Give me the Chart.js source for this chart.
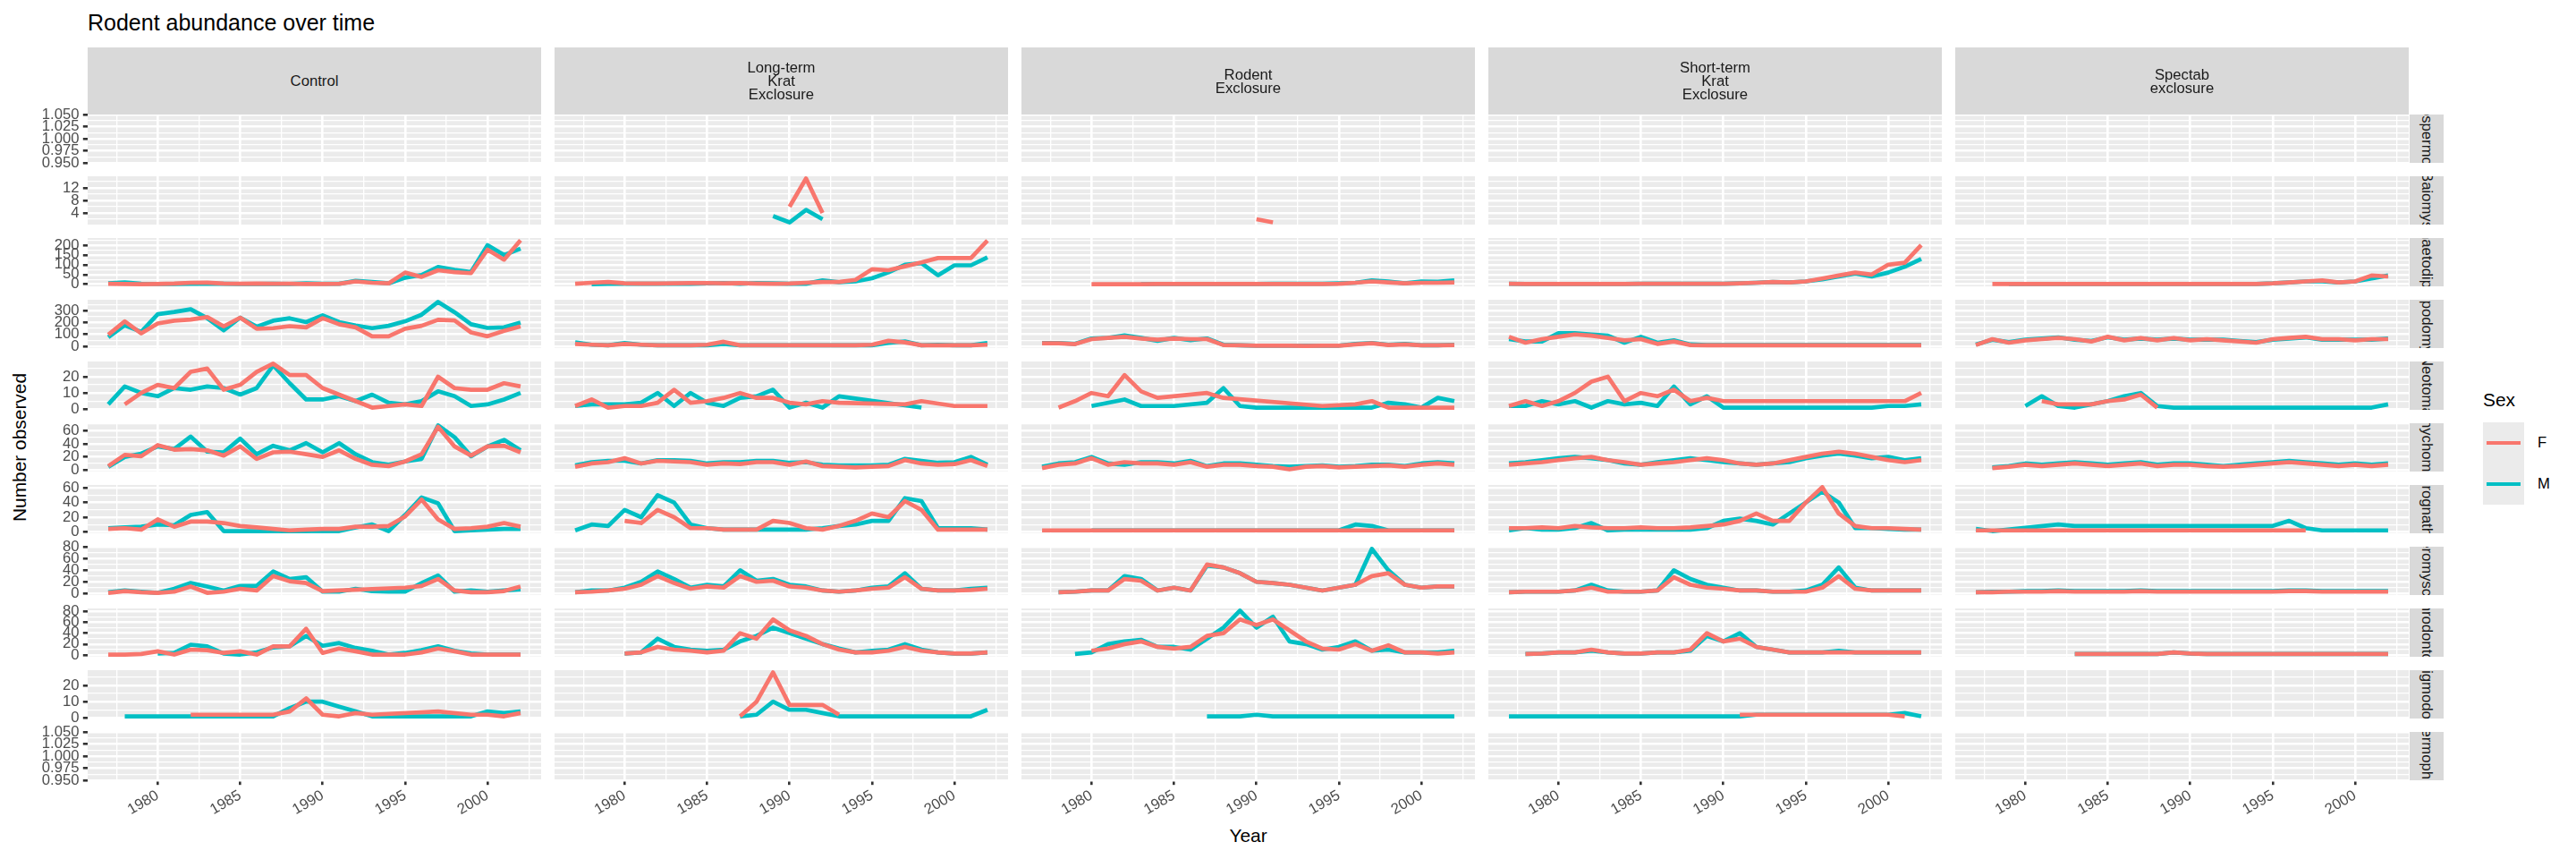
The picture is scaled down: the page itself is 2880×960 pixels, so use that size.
<!DOCTYPE html>
<html>
<head>
<meta charset="utf-8">
<script src="https://cdn.jsdelivr.net/npm/chart.js@4.4.1/dist/chart.umd.min.js"></script>
<style>
body{margin:0;width:2880px;height:960px;background:#fff;position:relative;overflow:hidden;font-family:"Liberation Sans",Arial,sans-serif}
canvas{position:absolute}
.txt{position:absolute;white-space:nowrap;line-height:1}
.strip{position:absolute;background:#D9D9D9;color:#1A1A1A;font-size:16.7px;display:flex;align-items:center;justify-content:center;text-align:center;line-height:15px;overflow:hidden;white-space:pre}
.rstrip span{writing-mode:vertical-rl;white-space:nowrap}
.key{position:absolute;width:46px;height:46px;background:#EBEBEB}
.key i{position:absolute;left:4px;right:4px;top:20.6px;height:4.7px}
</style>
</head>
<body>
<div class="txt" style="left:98px;top:12.8px;font-size:25px;color:#000">Rodent abundance over time</div>
<div class="txt" style="left:1395.5px;top:923.8px;font-size:20.9px;transform:translateX(-50%)">Year</div>
<div class="txt" style="left:21.5px;top:500px;font-size:20.9px;transform:translate(-50%,-50%) rotate(-90deg)">Number observed</div>
<div class="txt" style="left:2776px;top:437.3px;font-size:20.9px">Sex</div>
<div class="key" style="left:2776px;top:472px"><i style="background:#F8766D"></i></div>
<div class="key" style="left:2776px;top:518px"><i style="background:#00BFC4"></i></div>
<div class="txt" style="left:2837px;top:486.9px;font-size:16.7px">F</div>
<div class="txt" style="left:2837px;top:532.9px;font-size:16.7px">M</div>
<div id="wrap"></div>
<script>
const _ = null;
const years = [1977,1978,1979,1980,1981,1982,1983,1984,1985,1986,1987,1988,1989,
               1990,1991,1992,1993,1994,1995,1996,1997,1998,1999,2000,2001,2002];
const plotTypes = ["Control", "Long-term\nKrat\nExclosure", "Rodent\nExclosure",
                   "Short-term\nKrat\nExclosure", "Spectab\nexclosure"];
const genera = ["Ammospermophilus","Baiomys","Chaetodipus","Dipodomys","Neotoma","Onychomys",
                "Perognathus","Peromyscus","Reithrodontomys","Sigmodon","Spermophilus"];
const yTickSteps = [0.025, 4, 50, 100, 10, 20, 20, 20, 20, 10, 0.025];
const xTickLabels = [1980, 1985, 1990, 1995, 2000];

// counts by plot type: Control, Long-term, Rodent, Short-term, Spectab
const ammospermophilusF = [[],[],[],[],[]];
const ammospermophilusM = [[],[],[],[],[]];
const baiomysF = [[],
  [_,_,_,_,_,_,_,_,_,_,_,_,_,6,15,4,_,_,_,_,_,_,_,_,_,_],
  [_,_,_,_,_,_,_,_,_,_,_,_,_,2,1,_,_,_,_,_,_,_,_,_,_,_],
  [],[]];
const baiomysM = [[],
  [_,_,_,_,_,_,_,_,_,_,_,_,3,1,5,2,_,_,_,_,_,_,_,_,_,_],
  [],[],[]];
const chaetodipusF = [
  [3,2,1,2,4,8,9,4,3,4,3,3,2,2,3,15,8,5,60,38,72,62,57,177,126,225],
  [3,8,12,5,4,4,5,6,7,5,6,4,3,4,8,12,12,23,77,72,92,112,134,134,134,223],
  [_,_,_,1,1,1,1,2,2,2,2,2,2,2,2,2,2,2,3,8,15,10,5,8,8,10],
  [3,2,2,2,2,2,2,2,3,3,3,3,3,3,5,8,12,10,15,30,45,60,50,100,110,200],
  [_,2,2,2,2,2,2,2,2,2,2,2,2,2,2,2,2,2,5,10,15,20,10,15,45,40]];
const chaetodipusM = [
  [5,10,3,2,2,3,3,3,2,2,3,2,5,3,3,18,12,5,34,48,89,74,63,200,149,182],
  [_,1,3,3,3,3,3,3,5,7,3,7,5,3,3,20,11,15,31,61,100,108,46,97,97,138],
  [_,_,_,_,_,_,1,2,2,2,2,2,2,2,3,3,3,3,5,8,20,15,5,15,13,20],
  [3,2,2,2,2,2,2,2,3,3,3,3,3,3,5,8,12,10,15,25,40,55,40,60,90,130],
  [_,_,2,2,2,2,2,2,2,2,2,2,2,2,2,2,2,2,5,10,15,15,10,15,30,45]];
const dipodomysF = [
  [97,211,109,193,216,226,247,168,242,148,153,170,160,237,186,160,84,84,148,173,224,219,117,84,130,168],
  [20,13,8,20,13,8,8,8,13,38,8,8,8,8,8,8,8,8,13,46,33,8,8,8,8,13],
  [25,25,18,60,70,80,65,55,65,60,60,10,8,5,5,5,3,5,5,15,25,10,15,8,8,10],
  [80,30,60,80,100,90,70,50,60,20,40,10,8,8,8,8,8,8,8,8,8,8,8,8,8,8],
  [10,60,30,50,60,70,60,40,80,50,70,50,70,50,60,50,40,30,60,70,80,60,60,50,60,60]];
const dipodomysM = [
  [76,178,122,272,290,313,237,135,242,165,216,237,204,262,204,176,153,173,211,267,375,288,186,155,160,201],
  [33,13,8,28,13,8,8,8,8,20,8,8,8,8,8,8,8,8,8,28,41,8,13,8,8,28],
  [28,28,20,66,71,92,71,46,71,51,66,13,8,5,5,5,5,5,5,20,28,13,20,8,8,13],
  [60,40,40,110,110,100,90,30,80,30,50,15,10,10,10,10,10,10,10,10,10,10,10,10,10,10],
  [15,55,35,55,65,75,55,45,75,55,65,55,65,55,55,55,45,35,55,65,75,55,55,55,55,65]];
const neotomaF = [
  [_,3,10,15,13,23,25,12,15,23,28,21,21,13,9,5,1,2,3,2,20,13,12,12,16,14],
  [2,6,1,2,2,4,12,4,5,7,10,7,7,4,3,5,4,_,_,_,3,5,_,2,_,2],
  [_,1,5,10,8,21,11,7,_,_,10,7,_,_,_,_,_,2,_,3,5,1,1,1,1,1],
  [2,5,2,5,10,17,20,5,10,8,12,5,7,5,_,_,_,_,_,_,_,_,_,_,5,10],
  [_,_,_,_,5,3,3,3,5,6,9,1,_,_,_,_,_,_,_,_,_,_,_,_,_,_]];
const neotomaM = [
  [3,14,10,8,13,12,14,13,9,13,27,16,6,6,8,5,9,4,3,5,11,8,2,3,6,10],
  [2,3,_,3,4,10,2,10,4,2,7,8,12,1,4,1,8,_,_,_,_,1,_,_,_,_],
  [_,_,_,2,_,6,2,_,2,_,4,13,2,1,1,1,1,1,1,1,1,4,3,1,7,5],
  [2,2,5,3,5,1,5,3,4,2,14,3,8,1,1,1,1,1,1,1,1,1,1,2,2,3],
  [_,_,_,2,8,2,1,3,5,8,10,2,1,1,1,1,1,1,1,1,1,1,1,1,1,3]];
const onychomysF = [
  [6,23,21,38,31,32,30,22,36,17,27,28,24,20,30,17,8,6,13,24,66,36,22,36,37,27],
  [5,10,12,18,10,14,13,12,8,10,9,12,12,8,13,6,5,4,5,6,15,10,8,9,15,6],
  [3,8,10,18,8,12,10,10,8,12,5,8,8,6,5,1,5,6,4,5,6,7,5,8,10,8],
  [8,10,12,15,18,20,15,12,8,10,12,15,18,15,10,8,10,15,20,25,28,25,20,15,12,15],
  [_,3,5,8,6,8,10,8,6,8,10,6,8,8,6,5,6,8,10,12,10,8,6,8,6,8]];
const onychomysM = [
  [5,20,25,36,32,51,28,27,48,24,37,30,41,27,41,24,12,8,13,17,68,50,21,36,46,30],
  [7,12,14,14,10,15,15,14,10,12,12,14,14,11,12,8,7,7,7,8,17,14,11,12,20,8],
  [5,10,12,20,10,8,12,12,10,14,6,10,10,8,6,5,6,7,5,6,8,8,6,10,12,10],
  [10,12,15,18,20,18,15,10,8,12,15,18,15,12,10,8,10,12,18,22,25,22,18,20,15,18],
  [_,4,6,10,8,10,12,10,8,10,12,8,10,10,8,6,8,10,12,14,12,10,8,10,8,10]];
const perognathusF = [
  [4,5,3,17,7,14,14,12,8,6,4,2,3,4,4,7,7,8,21,44,17,4,5,7,12,7],
  [_,_,_,15,12,30,20,5,5,3,3,3,15,12,5,3,8,15,25,20,42,30,3,3,3,3],
  [2,2,2,2,2,2,2,2,2,2,2,2,2,2,2,2,2,2,2,2,2,2,2,2,2,2],
  [5,5,6,5,8,6,5,5,6,5,5,6,8,10,15,25,15,15,40,61,25,8,5,5,4,3],
  [2,2,2,2,2,2,2,2,2,2,2,2,2,2,2,2,2,2,2,2,2,_,_,_,_,_]];
const perognathusM = [
  [5,6,7,10,9,23,27,1,1,1,1,1,1,1,1,6,10,1,23,47,39,1,2,3,4,4],
  [2,10,8,30,20,50,40,10,5,3,3,3,3,3,3,5,8,10,15,15,46,42,5,5,5,3],
  [_,_,_,2,2,2,2,2,2,2,2,2,2,2,2,2,2,2,2,10,8,2,2,2,2,2],
  [2,5,3,3,5,12,2,3,3,3,3,3,5,15,18,15,10,25,40,55,40,5,5,4,3,3],
  [4,1,_,_,_,10,8,8,8,8,8,8,8,8,8,8,8,8,8,15,5,2,2,2,2,2]];
const peromyscusF = [
  [1,4,2,1,3,12,1,3,8,5,30,21,18,4,_,_,_,_,10,13,25,5,2,2,4,12],
  [2,3,5,8,15,30,18,8,12,10,30,20,22,12,10,5,3,5,8,10,28,8,5,5,6,8],
  [_,2,3,5,5,25,22,5,10,5,50,45,35,20,18,15,10,5,10,15,30,35,15,10,12,12],
  [2,3,3,3,5,10,3,3,3,5,28,15,10,8,5,5,3,3,3,10,30,8,5,5,5,5],
  [2,2,3,3,3,4,3,3,3,3,4,3,3,3,3,3,3,3,3,4,4,3,3,3,3,3]];
const peromyscusM = [
  [2,5,3,1,8,18,12,5,13,13,38,25,28,3,3,8,4,3,3,18,31,3,5,3,5,7],
  [2,5,5,10,20,38,25,10,15,12,40,22,25,15,12,5,3,5,10,12,35,8,5,5,8,10],
  [_,2,3,5,5,30,25,5,10,5,48,45,35,20,18,15,10,5,10,15,77,40,15,10,12,12],
  [2,3,3,3,5,15,5,3,3,5,40,25,15,10,5,5,3,3,5,15,45,10,5,5,5,5],
  [2,3,3,4,4,5,4,4,4,4,5,4,4,4,4,4,4,4,4,5,5,4,4,4,4,4]];
const reithrodontomysF = [
  [1,1,2,7,1,10,9,4,7,1,16,16,48,4,12,7,1,1,1,5,12,7,1,1,1,1],
  [_,_,_,3,5,15,10,8,5,8,40,30,65,45,35,20,10,5,5,8,15,8,5,3,3,5],
  [_,_,_,8,12,20,25,15,12,15,35,40,65,55,65,45,25,12,10,20,8,18,5,5,3,5],
  [_,2,3,5,5,10,5,3,3,5,5,10,40,25,30,15,10,5,5,5,5,5,5,5,5,5],
  [_,_,_,_,_,_,2,2,2,2,2,2,5,3,2,2,2,2,2,2,2,2,2,2,2,2]];
const reithrodontomysM = [
  [_,_,_,3,4,19,16,3,1,5,14,16,35,17,22,13,8,1,4,9,16,8,3,1,1,1],
  [_,_,_,3,5,30,15,10,8,10,25,35,50,40,30,20,12,5,8,10,20,10,5,3,3,5],
  [_,_,2,5,20,25,28,15,15,10,30,50,81,50,70,25,20,10,15,25,8,10,5,5,5,8],
  [_,2,3,5,5,8,5,3,3,5,5,8,35,25,40,15,10,5,5,5,8,5,5,5,5,5],
  [_,_,_,_,_,_,2,2,2,2,2,2,5,3,2,2,2,2,2,2,2,2,2,2,2,2]];
const sigmodonF = [
  [_,_,_,_,_,2,2,2,2,2,2,4,12,2,1,3,2,_,_,_,4,_,2,2,1,3],
  [_,_,_,_,_,_,_,_,_,_,1,10,28,8,8,8,2,_,_,_,_,_,_,_,_,_],
  [],
  [_,_,_,_,_,_,_,_,_,_,_,_,_,_,2,2,2,2,2,2,2,2,2,2,1,_],
  []];
const sigmodonM = [
  [_,1,1,1,1,1,1,1,1,1,1,6,10,10,7,4,1,1,1,1,1,1,1,4,3,4],
  [_,_,_,_,_,_,_,_,_,_,1,2,10,5,5,3,1,1,1,1,1,1,1,1,1,5],
  [_,_,_,_,_,_,_,_,_,_,1,1,1,2,1,1,1,1,1,1,1,1,1,1,1,1],
  [1,1,1,1,1,1,1,1,1,1,1,1,1,1,1,2,2,2,2,2,2,2,2,2,3,1],
  []];
const spermophilusF = [[],[],[],[],[]];
const spermophilusM = [[],[],[],[],[]];

const countsF = [ammospermophilusF, baiomysF, chaetodipusF, dipodomysF, neotomaF, onychomysF,
                 perognathusF, peromyscusF, reithrodontomysF, sigmodonF, spermophilusF];
const countsM = [ammospermophilusM, baiomysM, chaetodipusM, dipodomysM, neotomaM, onychomysM,
                 perognathusM, peromyscusM, reithrodontomysM, sigmodonM, spermophilusM];

// layout (px)
const PX = 98, PW = 506.6, CGAP = 15.5;
const PY = 128, PH = 54, RGAP = 15;
const PAD = 14, XAXH = 62;
const FONT = '"Liberation Sans", Arial, sans-serif';
const wrap = document.getElementById('wrap');

function pts(vals) {
  const out = [];
  vals.forEach((v, i) => { if (v !== null && v !== undefined) out.push({x: years[i], y: v}); });
  return out;
}

function rowRange(r) {
  const all = [];
  for (let c = 0; c < plotTypes.length; c++) {
    [countsF[r][c], countsM[r][c]].forEach(a => a.forEach(v => { if (v !== null) all.push(v); }));
  }
  if (!all.length) return [0.95, 1.05];
  const lo = Math.min(...all), hi = Math.max(...all), d = hi - lo;
  return [lo - 0.05 * d, hi + 0.05 * d];
}

const panelBg = {
  id: 'panelBg',
  beforeDraw(chart) {
    const a = chart.chartArea, ctx = chart.ctx;
    ctx.save();
    ctx.fillStyle = '#EBEBEB';
    ctx.fillRect(a.left, a.top, a.right - a.left, a.bottom - a.top);
    ctx.restore();
  }
};

const isMult = (v, s) => Math.abs(v / s - Math.round(v / s)) < 1e-6;

// strips on top
plotTypes.forEach((p, c) => {
  const d = document.createElement('div');
  d.className = 'strip';
  const l = Math.round(PX + c * (PW + CGAP)), rgt = Math.round(PX + c * (PW + CGAP) + PW);
  d.style.cssText = `left:${l}px;top:53px;width:${rgt - l}px;height:75px`;
  d.textContent = p;
  document.body.appendChild(d);
});
// strips on the right
const rightX = Math.round(PX + 4 * (PW + CGAP) + PW) + 1;
genera.forEach((g, r) => {
  const d = document.createElement('div');
  d.className = 'strip rstrip';
  d.style.cssText = `left:${rightX}px;top:${PY + r * (PH + RGAP)}px;width:38px;height:${PH}px`;
  d.innerHTML = `<span>${g}</span>`;
  document.body.appendChild(d);
});

const xTicks = [];
for (let v = 1977.5; v <= 2003; v += 2.5) xTicks.push(v);

for (let r = 0; r < genera.length; r++) {
  const [ylo, yhi] = rowRange(r);
  const step = yTickSteps[r], half = step / 2;
  const yTicks = [];
  for (let v = Math.ceil(ylo / half - 1e-9) * half; v <= yhi + 1e-9; v += half) yTicks.push(+v.toFixed(6));
  const isBottom = r === genera.length - 1;
  for (let c = 0; c < plotTypes.length; c++) {
    const isLeft = c === 0;
    const pl = Math.round(PX + c * (PW + CGAP)), pr = Math.round(PX + c * (PW + CGAP) + PW);
    const top = PY + r * (PH + RGAP);
    const cv = document.createElement('canvas');
    const cl = isLeft ? 0 : pl;
    const w = pr - cl, h = PAD + PH + (isBottom ? XAXH : PAD);
    cv.width = w; cv.height = h;
    cv.style.left = cl + 'px'; cv.style.top = (top - PAD) + 'px';
    cv.style.width = w + 'px'; cv.style.height = h + 'px';
    wrap.appendChild(cv);

    new Chart(cv, {
      type: 'line',
      data: {
        datasets: [
          {label: 'F', data: pts(countsF[r][c]), borderColor: '#F8766D'},
          {label: 'M', data: pts(countsM[r][c]), borderColor: '#00BFC4'}
        ]
      },
      options: {
        responsive: false,
        animation: false,
        devicePixelRatio: 1,
        layout: {padding: {top: PAD, bottom: isBottom ? 0 : PAD, left: 0, right: 0}},
        plugins: {legend: {display: false}, tooltip: {enabled: false}},
        elements: {
          point: {radius: 0},
          line: {borderWidth: 4.7, tension: 0, borderCapStyle: 'butt', borderJoinStyle: 'round', fill: false}
        },
        datasets: {line: {clip: 0}},
        scales: {
          x: {
            type: 'linear', min: 1975.75, max: 2003.25,
            afterBuildTicks: s => { s.ticks = xTicks.map(v => ({value: v})); },
            afterFit: s => { s.height = isBottom ? XAXH : 0; s.paddingLeft = 0; s.paddingRight = 0; },
            ticks: {
              display: isBottom, autoSkip: false, maxRotation: 30, minRotation: 30, padding: 2,
              callback: v => xTickLabels.includes(v) ? String(v) : '',
              font: {size: 16.7, family: FONT}, color: '#4D4D4D'
            },
            grid: {
              color: '#FFFFFF',
              lineWidth: ctx => isMult(ctx.tick.value, 5) ? 2.6 : 1.3,
              drawTicks: isBottom, tickLength: 5.2, tickWidth: 2.6,
              tickColor: ctx => isMult(ctx.tick.value, 5) ? '#333333' : 'rgba(0,0,0,0)'
            },
            border: {display: false}
          },
          y: {
            type: 'linear', min: ylo, max: yhi,
            afterBuildTicks: s => { s.ticks = yTicks.map(v => ({value: v})); },
            afterFit: s => { s.width = isLeft ? pl : 0; s.paddingTop = 0; s.paddingBottom = 0; },
            ticks: {
              display: isLeft, autoSkip: false, padding: 4.2,
              callback: v => isMult(v, step) ? (step < 1 ? v.toFixed(3) : String(Math.round(v))) : '',
              font: {size: 16.7, family: FONT}, color: '#4D4D4D'
            },
            grid: {
              color: '#FFFFFF',
              lineWidth: ctx => isMult(ctx.tick.value, step) ? 2.6 : 1.3,
              drawTicks: isLeft, tickLength: 5.2, tickWidth: 2.6,
              tickColor: ctx => isMult(ctx.tick.value, step) ? '#333333' : 'rgba(0,0,0,0)'
            },
            border: {display: false}
          }
        }
      },
      plugins: [panelBg]
    });
  }
}
</script>
</body>
</html>
